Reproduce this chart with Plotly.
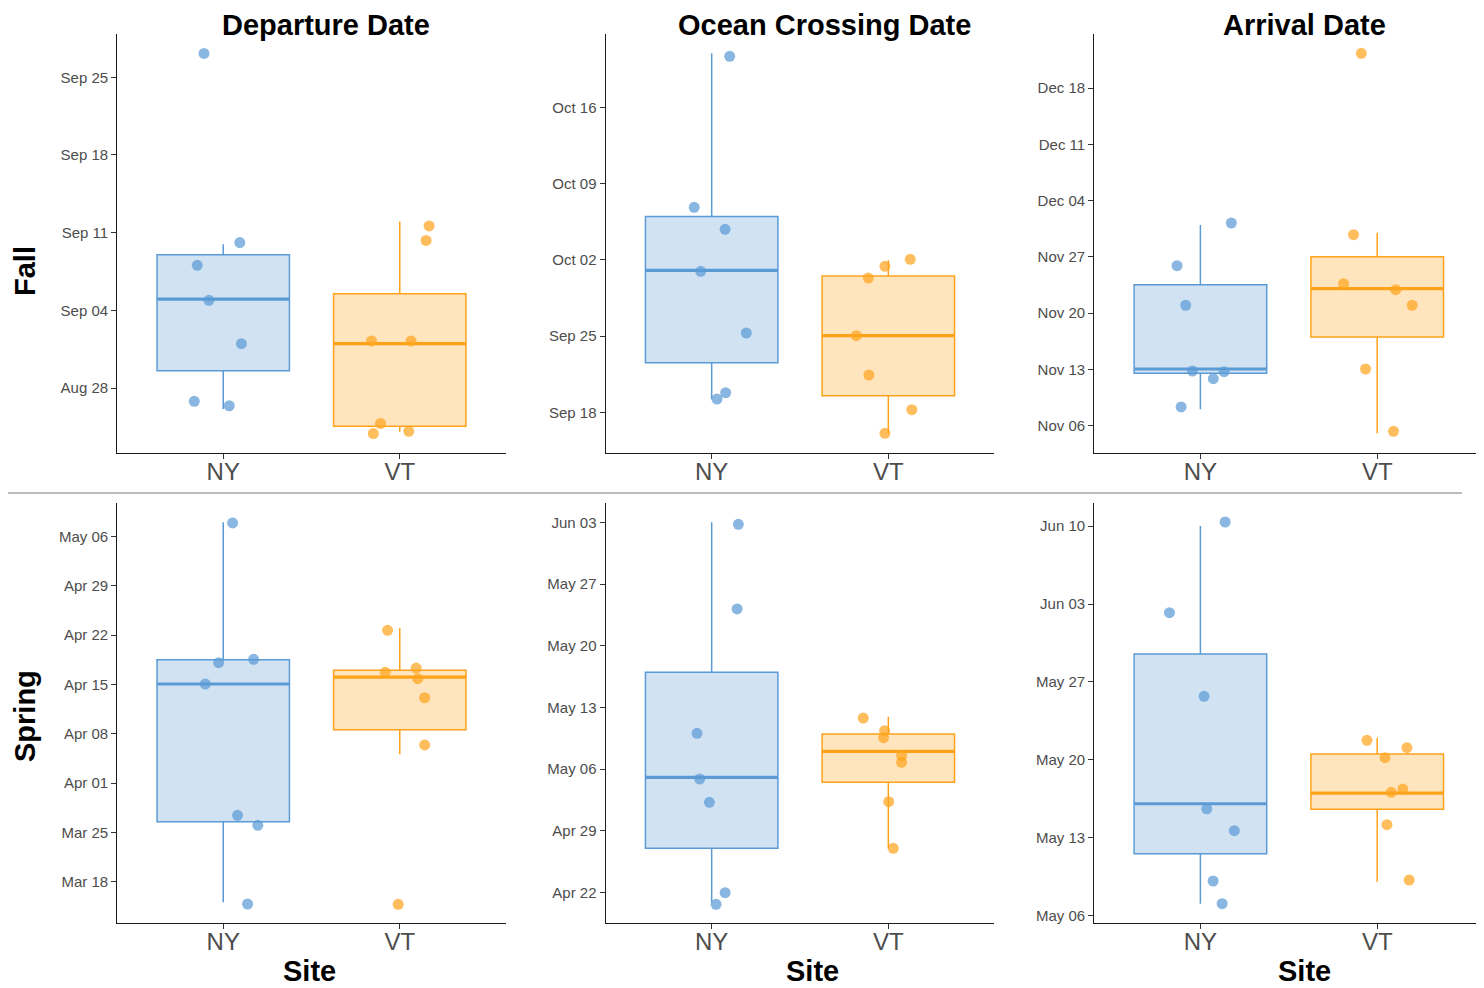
import plotly.graph_objects as go
import pandas as pd

YEAR = 2019

# ---------------- data (MM-DD.fraction of day) ----------------
sites = ["NY", "VT"]
col_titles = ["Departure Date", "Ocean Crossing Date", "Arrival Date"]
row_titles = ["Fall", "Spring"]

# box stats: lower whisker, q1, median, q3, upper whisker
fall_dep_ny_box = ["08-26.10", "08-29.56", "09-05.00", "09-09.00", "09-09.95"]
fall_dep_vt_box = ["08-24.06", "08-24.55", "09-01.00", "09-05.50", "09-12.00"]
fall_dep_ny_pts = ["09-27.15", "09-10.10", "09-08.05", "09-04.90", "08-31.99", "08-26.80", "08-26.40"]
fall_dep_vt_pts = ["09-11.60", "09-10.30", "09-01.24", "09-01.24", "08-24.80", "08-23.90", "08-24.10"]
fall_dep_ny_jit = [-0.109, 0.094, -0.147, -0.081, 0.103, -0.164, 0.034]
fall_dep_vt_jit = [0.166, 0.149, -0.160, 0.064, -0.109, -0.150, 0.051]

fall_ocn_ny_box = ["09-19.20", "09-22.56", "10-01.05", "10-06.00", "10-21.00"]
fall_ocn_vt_box = ["09-16.07", "09-19.53", "09-25.04", "09-30.53", "10-01.97"]
fall_ocn_ny_pts = ["10-20.72", "10-06.84", "10-04.82", "09-30.96", "09-25.29", "09-19.80", "09-19.22"]
fall_ocn_vt_pts = ["10-02.06", "10-01.42", "09-30.34", "09-25.04", "09-21.43", "09-18.24", "09-16.07"]
fall_ocn_ny_jit = [0.102, -0.099, 0.076, -0.062, 0.196, 0.079, 0.030]
fall_ocn_vt_jit = [0.124, -0.019, -0.113, -0.181, -0.110, 0.133, -0.019]

fall_arr_ny_box = ["11-08.04", "11-12.52", "11-13.05", "11-23.54", "11-30.96"]
fall_arr_vt_box = ["11-05.05", "11-17.03", "11-23.04", "11-27.02", "11-30.00"]
fall_arr_ny_pts = ["12-01.21", "11-25.90", "11-20.98", "11-12.80", "11-12.72", "11-11.85", "11-08.33"]
fall_arr_vt_pts = ["12-22.32", "11-29.76", "11-23.66", "11-22.92", "11-20.98", "11-13.05", "11-05.30"]
fall_arr_ny_jit = [0.175, -0.132, -0.083, -0.045, 0.134, 0.073, -0.109]
fall_arr_vt_jit = [-0.090, -0.134, -0.190, 0.105, 0.198, -0.066, 0.092]

spr_dep_ny_box = ["03-15.08", "03-26.51", "04-15.05", "04-18.50", "05-08.00"]
spr_dep_vt_box = ["04-05.07", "04-08.56", "04-16.04", "04-16.99", "04-23.00"]
spr_dep_ny_pts = ["05-07.90", "04-18.55", "04-18.07", "04-15.05", "03-27.42", "03-26.00", "03-14.84"]
spr_dep_vt_pts = ["04-22.67", "04-16.71", "04-17.32", "04-15.80", "04-13.10", "04-06.40", "03-14.80"]
spr_dep_ny_jit = [0.053, 0.172, -0.026, -0.102, 0.081, 0.196, 0.138]
spr_dep_vt_jit = [-0.069, -0.082, 0.093, 0.102, 0.141, 0.141, -0.009]

spr_ocn_ny_box = ["04-20.87", "04-27.03", "05-05.08", "05-16.99", "06-03.00"]
spr_ocn_vt_box = ["04-27.03", "05-04.52", "05-08.03", "05-09.99", "05-11.96"]
spr_ocn_ny_pts = ["06-02.77", "05-24.17", "05-10.07", "05-04.89", "05-02.25", "04-22.00", "04-20.68"]
spr_ocn_vt_pts = ["05-11.80", "05-10.37", "05-09.57", "05-07.53", "05-06.78", "05-02.32", "04-27.03"]
spr_ocn_ny_jit = [0.151, 0.144, -0.083, -0.068, -0.013, 0.076, 0.025]
spr_ocn_vt_jit = [-0.142, -0.021, -0.027, 0.075, 0.075, 0.002, 0.028]

spr_arr_ny_box = ["05-07.08", "05-11.57", "05-16.06", "05-29.51", "06-10.00"]
spr_arr_vt_box = ["05-09.05", "05-15.56", "05-17.02", "05-20.53", "05-21.99"]
spr_arr_ny_pts = ["06-10.37", "06-02.22", "05-25.71", "05-15.61", "05-13.64", "05-09.12", "05-07.08"]
spr_arr_vt_pts = ["05-21.76", "05-21.10", "05-20.20", "05-17.38", "05-17.09", "05-14.18", "05-09.21"]
spr_arr_ny_jit = [0.140, -0.175, 0.021, 0.036, 0.192, 0.072, 0.123]
spr_arr_vt_jit = [-0.058, 0.168, 0.044, 0.145, 0.079, 0.055, 0.181]

# axis settings per panel: (range low, range high, first weekly tick)
fall_dep_axis = ("08-22.17", "09-28.87", "08-28.00")
fall_ocn_axis = ("09-14.29", "10-22.74", "09-18.00")
fall_arr_axis = ("11-02.64", "12-24.68", "11-06.00")
spr_dep_axis = ("03-12.10", "05-10.69", "03-18.00")
spr_ocn_axis = ("04-18.53", "06-05.15", "04-22.00")
spr_arr_axis = ("05-05.32", "06-12.05", "05-06.00")


def to_dt(s):
    md, frac = s.split(".")
    return pd.Timestamp(f"{YEAR}-{md}") + pd.Timedelta(days=float("0." + frac))


panels = [
    (fall_dep_ny_box, fall_dep_vt_box, fall_dep_ny_pts, fall_dep_vt_pts, fall_dep_ny_jit, fall_dep_vt_jit, fall_dep_axis),
    (fall_ocn_ny_box, fall_ocn_vt_box, fall_ocn_ny_pts, fall_ocn_vt_pts, fall_ocn_ny_jit, fall_ocn_vt_jit, fall_ocn_axis),
    (fall_arr_ny_box, fall_arr_vt_box, fall_arr_ny_pts, fall_arr_vt_pts, fall_arr_ny_jit, fall_arr_vt_jit, fall_arr_axis),
    (spr_dep_ny_box, spr_dep_vt_box, spr_dep_ny_pts, spr_dep_vt_pts, spr_dep_ny_jit, spr_dep_vt_jit, spr_dep_axis),
    (spr_ocn_ny_box, spr_ocn_vt_box, spr_ocn_ny_pts, spr_ocn_vt_pts, spr_ocn_ny_jit, spr_ocn_vt_jit, spr_ocn_axis),
    (spr_arr_ny_box, spr_arr_vt_box, spr_arr_ny_pts, spr_arr_vt_pts, spr_arr_ny_jit, spr_arr_vt_jit, spr_arr_axis),
]

# ---------------- styling ----------------
OFF = 8                      # page body margin offset
W, H = 1484 - OFF, 988 - OFF
FONT = "Liberation Sans, Arial, sans-serif"
line_col = {"NY": "#5B9BD5", "VT": "#FFA21A"}
fill_col = {"NY": "rgba(91,155,213,0.28)", "VT": "rgba(255,170,40,0.30)"}
pt_col = {"NY": "rgba(91,155,213,0.72)", "VT": "rgba(255,165,30,0.72)"}

col_px = [(117.3, 505.7), (605.7, 994.3), (1094.3, 1483.3)]
row_px = [(34.3, 452.7), (503.3, 923.3)]


def px_x(p):
    return (p - OFF) / W


def px_y(p):
    return 1 - (p - OFF) / H


fig = go.Figure()
layout_axes = {}
BOX_W = 0.75

for i, (nybox, vtbox, nypts, vtpts, nyjit, vtjit, axis) in enumerate(panels):
    r, c = divmod(i, 3)
    n = i + 1
    xa = "x" if n == 1 else f"x{n}"
    ya = "y" if n == 1 else f"y{n}"
    for k, (site, box, pts, jit) in enumerate(
        [("NY", nybox, nypts, nyjit), ("VT", vtbox, vtpts, vtjit)]
    ):
        pos = k + 1
        b = [to_dt(s) for s in box]
        fig.add_trace(go.Box(
            x=[pos], lowerfence=[b[0]], q1=[b[1]], median=[b[2]], q3=[b[3]], upperfence=[b[4]],
            width=BOX_W, whiskerwidth=0, boxpoints=False,
            fillcolor=fill_col[site], line=dict(color=line_col[site], width=1.5),
            xaxis=xa, yaxis=ya, showlegend=False, hoverinfo="skip",
        ))
        # thicker median line (ggplot fatten)
        fig.add_trace(go.Scatter(
            x=[pos - BOX_W / 2, pos + BOX_W / 2], y=[b[2], b[2]], mode="lines",
            line=dict(color=line_col[site], width=3.2),
            xaxis=xa, yaxis=ya, showlegend=False, hoverinfo="skip",
        ))
        fig.add_trace(go.Scatter(
            x=[pos + j for j in jit], y=[to_dt(s) for s in pts], mode="markers",
            marker=dict(color=pt_col[site], size=11, line=dict(width=0)),
            xaxis=xa, yaxis=ya, showlegend=False,
        ))

    x0, x1 = col_px[c]
    y0, y1 = row_px[r]
    layout_axes["xaxis" if n == 1 else f"xaxis{n}"] = dict(
        domain=[px_x(x0), min(px_x(x1), 1)], anchor=ya, range=[0.4, 2.6],
        tickvals=[1, 2], ticktext=sites, showgrid=False, zeroline=False,
        showline=True, linecolor="#1a1a1a", linewidth=1.3,
        ticks="outside", ticklen=5, tickwidth=1.2, tickcolor="#333333",
        ticklabelstandoff=-8,
        tickfont=dict(family=FONT, size=24, color="#4D4D4D"), fixedrange=True,
    )
    lo, hi, t0 = axis
    layout_axes["yaxis" if n == 1 else f"yaxis{n}"] = dict(
        domain=[px_y(y1), px_y(y0)], anchor=xa, type="date",
        range=[to_dt(lo), to_dt(hi)], tick0=to_dt(t0), dtick=7 * 86400000,
        tickformat="%b %d", showgrid=False, zeroline=False,
        showline=True, linecolor="#1a1a1a", linewidth=1.3,
        ticks="outside", ticklen=5, tickwidth=1.2, tickcolor="#333333",
        tickfont=dict(family=FONT, size=15, color="#4D4D4D"), fixedrange=True,
    )

annotations = []
title_x = [325.5, 824.5, 1304.5]
for t, xp in zip(col_titles, title_x):
    annotations.append(dict(text=f"<b>{t}</b>", x=px_x(xp), y=1, xref="paper", yref="paper",
                            showarrow=False, xanchor="center", yanchor="top", borderpad=0,
                            font=dict(family=FONT, size=29, color="black")))
for t, yp in zip(row_titles, [271, 716]):
    annotations.append(dict(text=f"<b>{t}</b>", x=0, y=px_y(yp), xref="paper", yref="paper",
                            showarrow=False, xanchor="left", yanchor="middle", textangle=-90,
                            borderpad=0, font=dict(family=FONT, size=29, color="black")))
for xp in [309, 812, 1304]:
    annotations.append(dict(text="<b>Site</b>", x=px_x(xp), y=0, xref="paper", yref="paper",
                            showarrow=False, xanchor="center", yanchor="bottom", borderpad=0,
                            font=dict(family=FONT, size=29, color="black")))

fig.update_layout(
    width=W, height=H, margin=dict(l=0, r=0, t=0, b=0),
    paper_bgcolor="white", plot_bgcolor="white",
    annotations=annotations,
    shapes=[dict(type="line", xref="paper", yref="paper", x0=0, x1=px_x(1462),
                 y0=px_y(493), y1=px_y(493), line=dict(color="#A6A6A6", width=1.5))],
    **layout_axes,
)

fig.write_html("out.html")
